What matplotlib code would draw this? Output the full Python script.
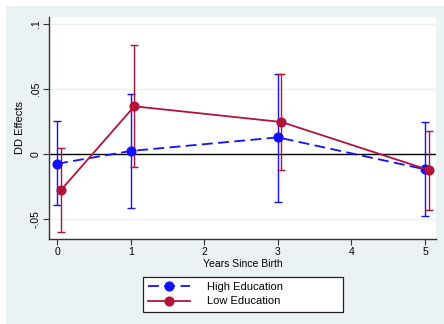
import matplotlib.pyplot as plt
from matplotlib.patches import Rectangle

plt.rcParams['font.family'] = ['Liberation Sans', 'DejaVu Sans']

# valores
years = [0, 1, 3, 5]
offset = 0.05

high_est = [-0.0075, 0.0023, 0.0128, -0.0118]
high_lo = [-0.0395, -0.0418, -0.0369, -0.0477]
high_hi = [0.0256, 0.0459, 0.0618, 0.0246]

low_est = [-0.0279, 0.0367, 0.0246, -0.0123]
low_lo = [-0.0602, -0.0098, -0.0123, -0.0428]
low_hi = [0.0044, 0.0836, 0.0618, 0.0175]

yticks = [-0.05, 0, 0.05, 0.1]
ytick_labels = ['-.05', '0', '.05', '.1']
xticks = [0, 1, 2, 3, 4, 5]

blue = '#1010ff'
red = '#b5123a'
bg = '#eaf2f3'

W, H = 444, 324
fig = plt.figure(figsize=(W / 100, H / 100), dpi=100, facecolor='white')
fig.patches.append(Rectangle((6 / W, 0), 1, 1 - 6 / H, transform=fig.transFigure,
                             facecolor=bg, edgecolor='none', zorder=-10))

ax = fig.add_axes([49 / W, 1 - 239 / H, (436 - 49) / W, (239 - 17) / H])
ax.set_facecolor('white')

for y in yticks:
    if y != 0:
        ax.axhline(y, color=bg, lw=1.0, zorder=0)
ax.axhline(0, color='black', lw=1.0, zorder=1)

low_x = [x + offset for x in years]

ax.errorbar(years, high_est,
            yerr=[[e - l for e, l in zip(high_est, high_lo)], [h - e for e, h in zip(high_est, high_hi)]],
            fmt='none', ecolor=blue, elinewidth=1.0, capsize=3, capthick=1.0, zorder=2)
ax.errorbar(low_x, low_est,
            yerr=[[e - l for e, l in zip(low_est, low_lo)], [h - e for e, h in zip(low_est, low_hi)]],
            fmt='none', ecolor=red, elinewidth=1.0, capsize=3, capthick=1.0, zorder=2)

ax.plot(years, high_est, color=blue, lw=1.3, ls=(0, (6, 3)), marker='o', ms=6.3,
        label='High Education', zorder=3)
ax.plot(low_x, low_est, color=red, lw=1.3, marker='o', ms=6.3,
        label='Low Education', zorder=3)

ax.set_xlim(-0.11, 5.15)
ax.set_ylim(-0.0654, 0.1054)
ax.set_xticks(xticks)
ax.set_yticks(yticks)
ax.set_yticklabels(ytick_labels, rotation=90, va='center')
ax.tick_params(labelsize=7.5, length=4, width=0.8, color='#333333', pad=2)

for s in ['top', 'right']:
    ax.spines[s].set_visible(False)
for s in ['left', 'bottom']:
    ax.spines[s].set_color('#333333')
    ax.spines[s].set_linewidth(1.0)

ax.set_xlabel('Years Since Birth', fontsize=7.5, labelpad=1)
ax.set_ylabel('DD Effects', fontsize=8, labelpad=4)

leg = fig.legend(loc='center', bbox_to_anchor=(143 / W, 11 / H, 200 / W, 38 / H), mode='expand',
                 fontsize=8, frameon=True, fancybox=False, handlelength=3.8, handletextpad=1.5,
                 borderpad=0.45, labelspacing=0.45, borderaxespad=0)
leg.get_frame().set_edgecolor('#222222')
leg.get_frame().set_facecolor('white')
leg.get_frame().set_alpha(1)
leg.get_frame().set_linewidth(0.9)

fig.savefig('out.png', dpi=100, facecolor=fig.get_facecolor())
